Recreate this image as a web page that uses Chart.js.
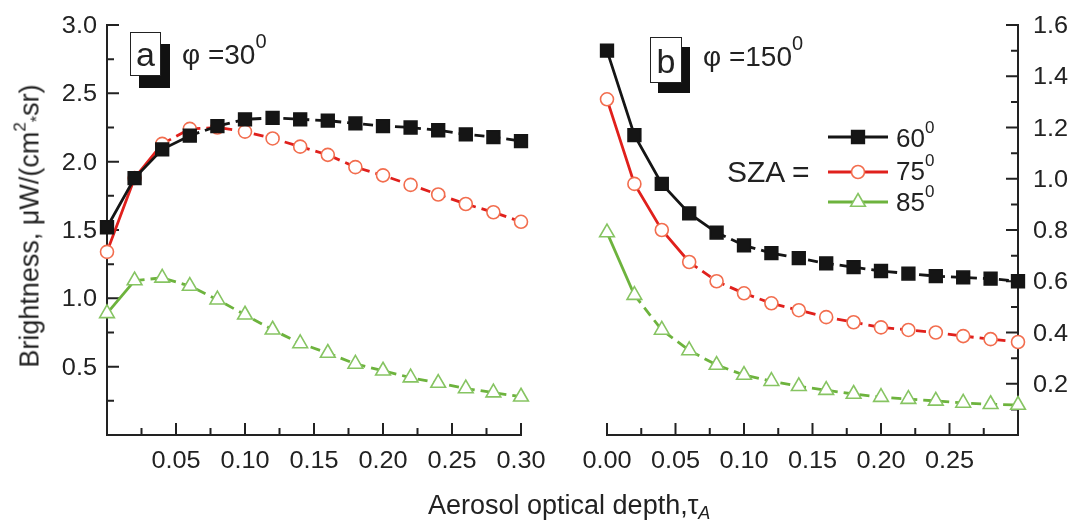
<!DOCTYPE html>
<html><head><meta charset="utf-8">
<script src="https://cdn.jsdelivr.net/npm/chart.js@4"></script>
<style>
body{margin:0;background:#fff}
#wrap{position:relative;width:1072px;height:520px;background:#fff;font-family:"Liberation Sans",Arial,Helvetica,sans-serif;color:#222;overflow:hidden}
canvas{position:absolute;left:0;top:0}
.t{position:absolute;white-space:nowrap;line-height:1}
.sp{position:relative}
.box{position:absolute;box-sizing:border-box;border:1.5px solid #222;background:#fff;text-align:center;line-height:1}
</style>
</head><body>
<div id="wrap">
<canvas id="cA" width="1072" height="520"></canvas>
<canvas id="cB" width="1072" height="520"></canvas>
<div class="t" style="left:30px;top:226px;font-size:27px;transform:translate(-50%,-50%) rotate(-90deg)">Brightness, μW/(cm<span class="sp" style="font-size:17px;top:-13px">2</span><span class="sp" style="font-size:16px;top:4px">*</span>sr)</div>
<div class="t" style="left:428px;top:492px;font-size:27px">Aerosol optical depth,τ<span class="sp" style="font-size:18px;top:5px;font-style:italic">A</span></div>
<div class="box" style="left:130px;top:32px;width:31px;height:44px;font-size:34px;padding-top:4px;box-shadow:9px 12px 0 #111">a</div>
<div class="t" style="left:182px;top:41px;font-size:28px">φ =30<span class="sp" style="font-size:20px;top:-16px">0</span></div>
<div class="box" style="left:650px;top:37px;width:32px;height:46px;font-size:34px;padding-top:6px;box-shadow:8px 10px 0 #111">b</div>
<div class="t" style="left:703px;top:43px;font-size:28px">φ =150<span class="sp" style="font-size:20px;top:-16px">0</span></div>
<div class="t" style="left:727px;top:157px;font-size:30px">SZA =</div>
<div class="t" style="left:896px;top:125px;font-size:26px">60<span class="sp" style="font-size:17px;top:-14px">0</span></div>
<div class="t" style="left:896px;top:158px;font-size:26px">75<span class="sp" style="font-size:17px;top:-14px">0</span></div>
<div class="t" style="left:896px;top:189px;font-size:26px">85<span class="sp" style="font-size:17px;top:-14px">0</span></div>
</div>
<script>
// ---- data ----
const tau = [0.00,0.02,0.04,0.06,0.08,0.10,0.12,0.14,0.16,0.18,0.20,0.22,0.24,0.26,0.28,0.30];
// panel a (phi = 30), left axis
const a60 = [1.52,1.88,2.09,2.19,2.26,2.31,2.32,2.31,2.30,2.28,2.26,2.25,2.23,2.20,2.18,2.15];
const a75 = [1.34,1.88,2.13,2.24,2.25,2.22,2.17,2.11,2.05,1.96,1.90,1.83,1.76,1.69,1.63,1.56];
const a85 = [0.89,1.13,1.15,1.09,0.99,0.88,0.77,0.67,0.60,0.52,0.47,0.42,0.38,0.34,0.31,0.28];
// panel b (phi = 150), right axis
const b60 = [1.50,1.17,0.98,0.865,0.79,0.74,0.71,0.69,0.67,0.655,0.64,0.63,0.62,0.615,0.61,0.60];
const b75 = [1.31,0.98,0.80,0.675,0.60,0.553,0.514,0.487,0.46,0.44,0.42,0.41,0.40,0.386,0.374,0.363];
const b85 = [0.79,0.546,0.41,0.33,0.273,0.234,0.21,0.19,0.175,0.16,0.148,0.14,0.133,0.125,0.12,0.117];
// tick labels
const aXTicks = [0.05,0.10,0.15,0.20,0.25,0.30];
const aXMinor = [0.025,0.075,0.125,0.175,0.225,0.275];
const aYTicks = [0.5,1.0,1.5,2.0,2.5,3.0];
const aYMinor = [0.25,0.75,1.25,1.75,2.25,2.75];
const bXTicks = [0.00,0.05,0.10,0.15,0.20,0.25];
const bXMinor = [0.025,0.075,0.125,0.175,0.225,0.275];
const bYTicks = [0.2,0.4,0.6,0.8,1.0,1.2,1.4,1.6];
const bYMinor = [0.1,0.3,0.5,0.7,0.9,1.1,1.3,1.5];

const C = {
  k:{line:'#151515', pt:'#151515', fill:'#151515', style:'rect', r:9},
  r:{line:'#e0201c', pt:'#f26d4e', fill:'#ffffff', style:'circle', r:6.5},
  g:{line:'#6db33d', pt:'#86c462', fill:'#ffffff', style:'triangle', r:8.5}
};
function ds(vals, c, solidSegs){
  return {
    data: tau.map((x,i)=>({x:x,y:vals[i]})),
    borderColor:c.line, borderWidth:2.8, pointStyle:c.style, pointRadius:c.r,
    pointBorderColor:c.pt, pointBackgroundColor:c.fill, pointBorderWidth:1.6,
    tension:0, clip:false,
    segment:{borderDash: ctx => ctx.p0DataIndex >= solidSegs ? [10,6] : []}
  };
}
function lbl(ctx, s, x, y, align){
  ctx.save(); ctx.translate(x,y); ctx.scale(1.1,1);
  ctx.textAlign=align; ctx.textBaseline='alphabetic'; ctx.fillText(s,0,0); ctx.restore();
}
function axesPlugin(side, xT, xM, yT, yM, xDec, yDec){
  return {
    id:'axes_'+side,
    beforeDatasetsDraw(chart){
      const ctx=chart.ctx, a=chart.chartArea, xs=chart.scales.x, ys=chart.scales.y;
      const ax = side==='left'? a.left : a.right, dir = side==='left'? 1 : -1;
      ctx.save();
      ctx.strokeStyle='#222'; ctx.lineWidth=2; ctx.lineCap='square';
      ctx.beginPath();
      ctx.moveTo(ax,a.top); ctx.lineTo(ax,a.bottom);
      ctx.moveTo(a.left,a.bottom); ctx.lineTo(a.right,a.bottom);
      yT.forEach(v=>{const p=ys.getPixelForValue(v); ctx.moveTo(ax,p); ctx.lineTo(ax+dir*11,p);});
      yM.forEach(v=>{const p=ys.getPixelForValue(v); ctx.moveTo(ax,p); ctx.lineTo(ax+dir*6,p);});
      xT.forEach(v=>{const p=xs.getPixelForValue(v); ctx.moveTo(p,a.bottom); ctx.lineTo(p,a.bottom-11);});
      xM.forEach(v=>{const p=xs.getPixelForValue(v); ctx.moveTo(p,a.bottom); ctx.lineTo(p,a.bottom-6);});
      ctx.stroke();
      ctx.fillStyle='#222'; ctx.font='23px "Liberation Sans", Arial, sans-serif';
      yT.forEach(v=>{const p=ys.getPixelForValue(v);
        if(side==='left') lbl(ctx, v.toFixed(yDec), ax-10, p+8, 'right');
        else lbl(ctx, v.toFixed(yDec), ax+15, p+8, 'left');});
      xT.forEach(v=>{const p=xs.getPixelForValue(v); lbl(ctx, v.toFixed(xDec), p, a.bottom+33, 'center');});
      ctx.restore();
    }
  };
}
const legendPlugin = {
  id:'legendB',
  afterDraw(chart){
    const ctx=chart.ctx;
    const rows=[[C.k,137],[C.r,172],[C.g,202]];
    rows.forEach(([c,y])=>{
      ctx.save(); ctx.strokeStyle=c.line; ctx.lineWidth=2.8;
      ctx.beginPath(); ctx.moveTo(828,y); ctx.lineTo(888,y); ctx.stroke();
      ctx.strokeStyle=c.pt; ctx.fillStyle=c.fill; ctx.lineWidth=1.6;
      Chart.helpers.drawPoint(ctx,{pointStyle:c.style,radius:c.r,borderWidth:1.6},858,y);
      ctx.restore();
    });
  }
};
const common = (pad, ymax) => ({
  responsive:false, animation:false,
  layout:{padding:pad},
  plugins:{legend:{display:false}, tooltip:{enabled:false}},
  scales:{
    x:{type:'linear', min:0, max:0.30, display:false},
    y:{type:'linear', min:0, max:ymax, display:false}
  }
});
new Chart(document.getElementById('cA'), {
  type:'line',
  data:{datasets:[ds(a60,C.k,3), ds(a75,C.r,2), ds(a85,C.g,1)]},
  options:common({left:107, right:1072-521, top:25, bottom:520-435}, 3.0),
  plugins:[axesPlugin('left', aXTicks, aXMinor, aYTicks, aYMinor, 2, 1)]
});
new Chart(document.getElementById('cB'), {
  type:'line',
  data:{datasets:[ds(b60,C.k,4), ds(b75,C.r,3), ds(b85,C.g,1)]},
  options:common({left:607, right:1072-1018, top:25, bottom:520-435}, 1.6),
  plugins:[axesPlugin('right', bXTicks, bXMinor, bYTicks, bYMinor, 2, 1), legendPlugin]
});
</script>
</body></html>
